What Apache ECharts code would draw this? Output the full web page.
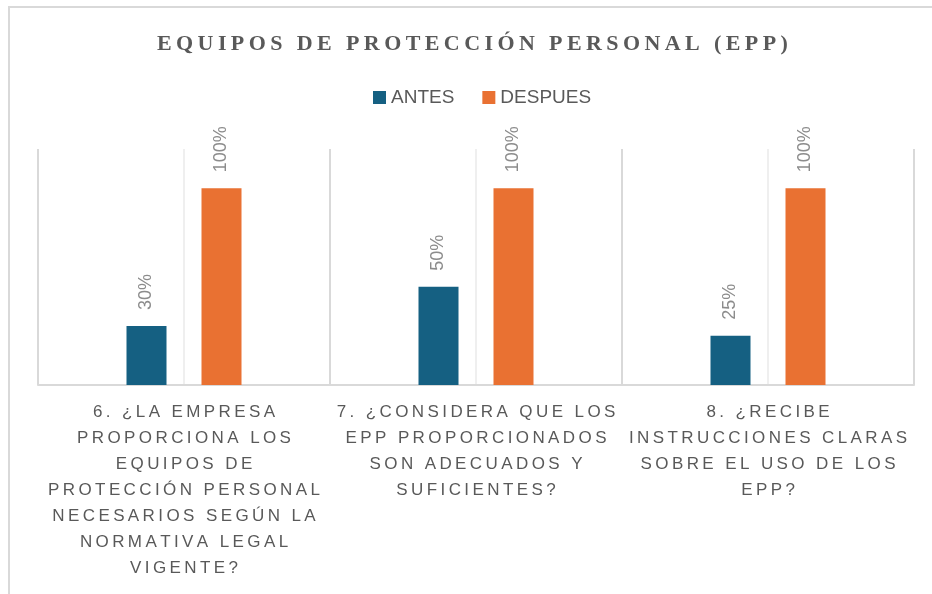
<!DOCTYPE html>
<html>
<head>
<meta charset="utf-8">
<script src="https://cdn.jsdelivr.net/npm/echarts@6/dist/echarts.min.js"></script>
<style>
  html, body { margin: 0; padding: 0; background: #fff; }
  #chart { width: 932px; height: 594px; }
</style>
</head>
<body>
<div id="chart"></div>
<script>
// datos del grafico
var titulo = 'EQUIPOS DE PROTECCIÓN PERSONAL (EPP)';
var seriesNames = ['ANTES', 'DESPUES'];
var categorias = [
    '6. ¿LA EMPRESA\nPROPORCIONA LOS\nEQUIPOS DE\nPROTECCIÓN PERSONAL\nNECESARIOS SEGÚN LA\nNORMATIVA LEGAL\nVIGENTE?',
    '7. ¿CONSIDERA QUE LOS\nEPP PROPORCIONADOS\nSON ADECUADOS Y\nSUFICIENTES?',
    '8. ¿RECIBE\nINSTRUCCIONES CLARAS\nSOBRE EL USO DE LOS\nEPP?'
];
var antes = [30, 50, 25];     // %
var despues = [100, 100, 100]; // %

// espaciado entre letras (simula el letter-spacing de Excel)
function espaciar(txt, sep) {
    return txt.split('\n').map(function (linea) {
        return linea.split('').join(sep);
    }).join('\n');
}

var myChart = echarts.init(document.getElementById('chart'));

var etiqueta = {
    show: true,
    position: 'top',
    rotate: 90,
    align: 'left',
    verticalAlign: 'middle',
    distance: 16,
    formatter: '{c}%',
    fontFamily: 'Liberation Sans',
    fontSize: 18,
    color: '#8c8c8c'
};

myChart.setOption({
    animation: false,
    backgroundColor: '#fff',
    graphic: [{
        type: 'rect',
        silent: true,
        shape: {x: 9, y: 7, width: 1000, height: 1000},
        style: {fill: null, stroke: '#d9d9d9', lineWidth: 2}
    }],
    title: {
        text: espaciar(titulo, '\u2009'),
        left: 152,
        top: 28,
        textStyle: {
            fontFamily: 'Liberation Serif',
            fontWeight: 'bold',
            fontSize: 22,
            color: '#595959'
        }
    },
    legend: {
        data: seriesNames,
        top: 83,
        left: 368,
        icon: 'rect',
        itemWidth: 13,
        itemHeight: 13,
        itemGap: 28,
        textStyle: {
            fontFamily: 'Liberation Sans',
            fontSize: 19,
            color: '#595959'
        }
    },
    grid: {left: 38, right: 18, top: 149, bottom: 209},
    xAxis: [{
        type: 'category',
        data: categorias,
        z: 2,
        axisLine: {lineStyle: {color: '#d9d9d9', width: 2}},
        axisTick: {show: false},
        splitLine: {show: true, lineStyle: {color: '#d9d9d9', width: 2}},
        axisLabel: {
            interval: 0,
            margin: 14,
            lineHeight: 26,
            fontFamily: 'Liberation Sans',
            fontSize: 17,
            color: '#595959',
            align: 'center',
            verticalAlign: 'top',
            formatter: function (v) { return espaciar(v, '\u2009'); }
        }
    }, {
        type: 'category',
        data: ['', '', '', '', '', ''],
        position: 'bottom',
        z: 0,
        axisLine: {show: false},
        axisTick: {show: false},
        axisLabel: {show: false},
        splitLine: {
            show: true,
            interval: function (i) { return i % 2 === 1; },
            lineStyle: {color: '#efefef', width: 2}
        }
    }],
    yAxis: {
        type: 'value',
        min: 0,
        max: 120,
        show: false,
        splitLine: {show: false}
    },
    series: [{
        name: 'ANTES',
        type: 'bar',
        data: antes,
        barWidth: 40,
        barGap: '87.5%',
        itemStyle: {color: '#156082'},
        label: etiqueta
    }, {
        name: 'DESPUES',
        type: 'bar',
        data: despues,
        barWidth: 40,
        itemStyle: {color: '#e97132'},
        label: etiqueta
    }]
});
</script>
</body>
</html>
